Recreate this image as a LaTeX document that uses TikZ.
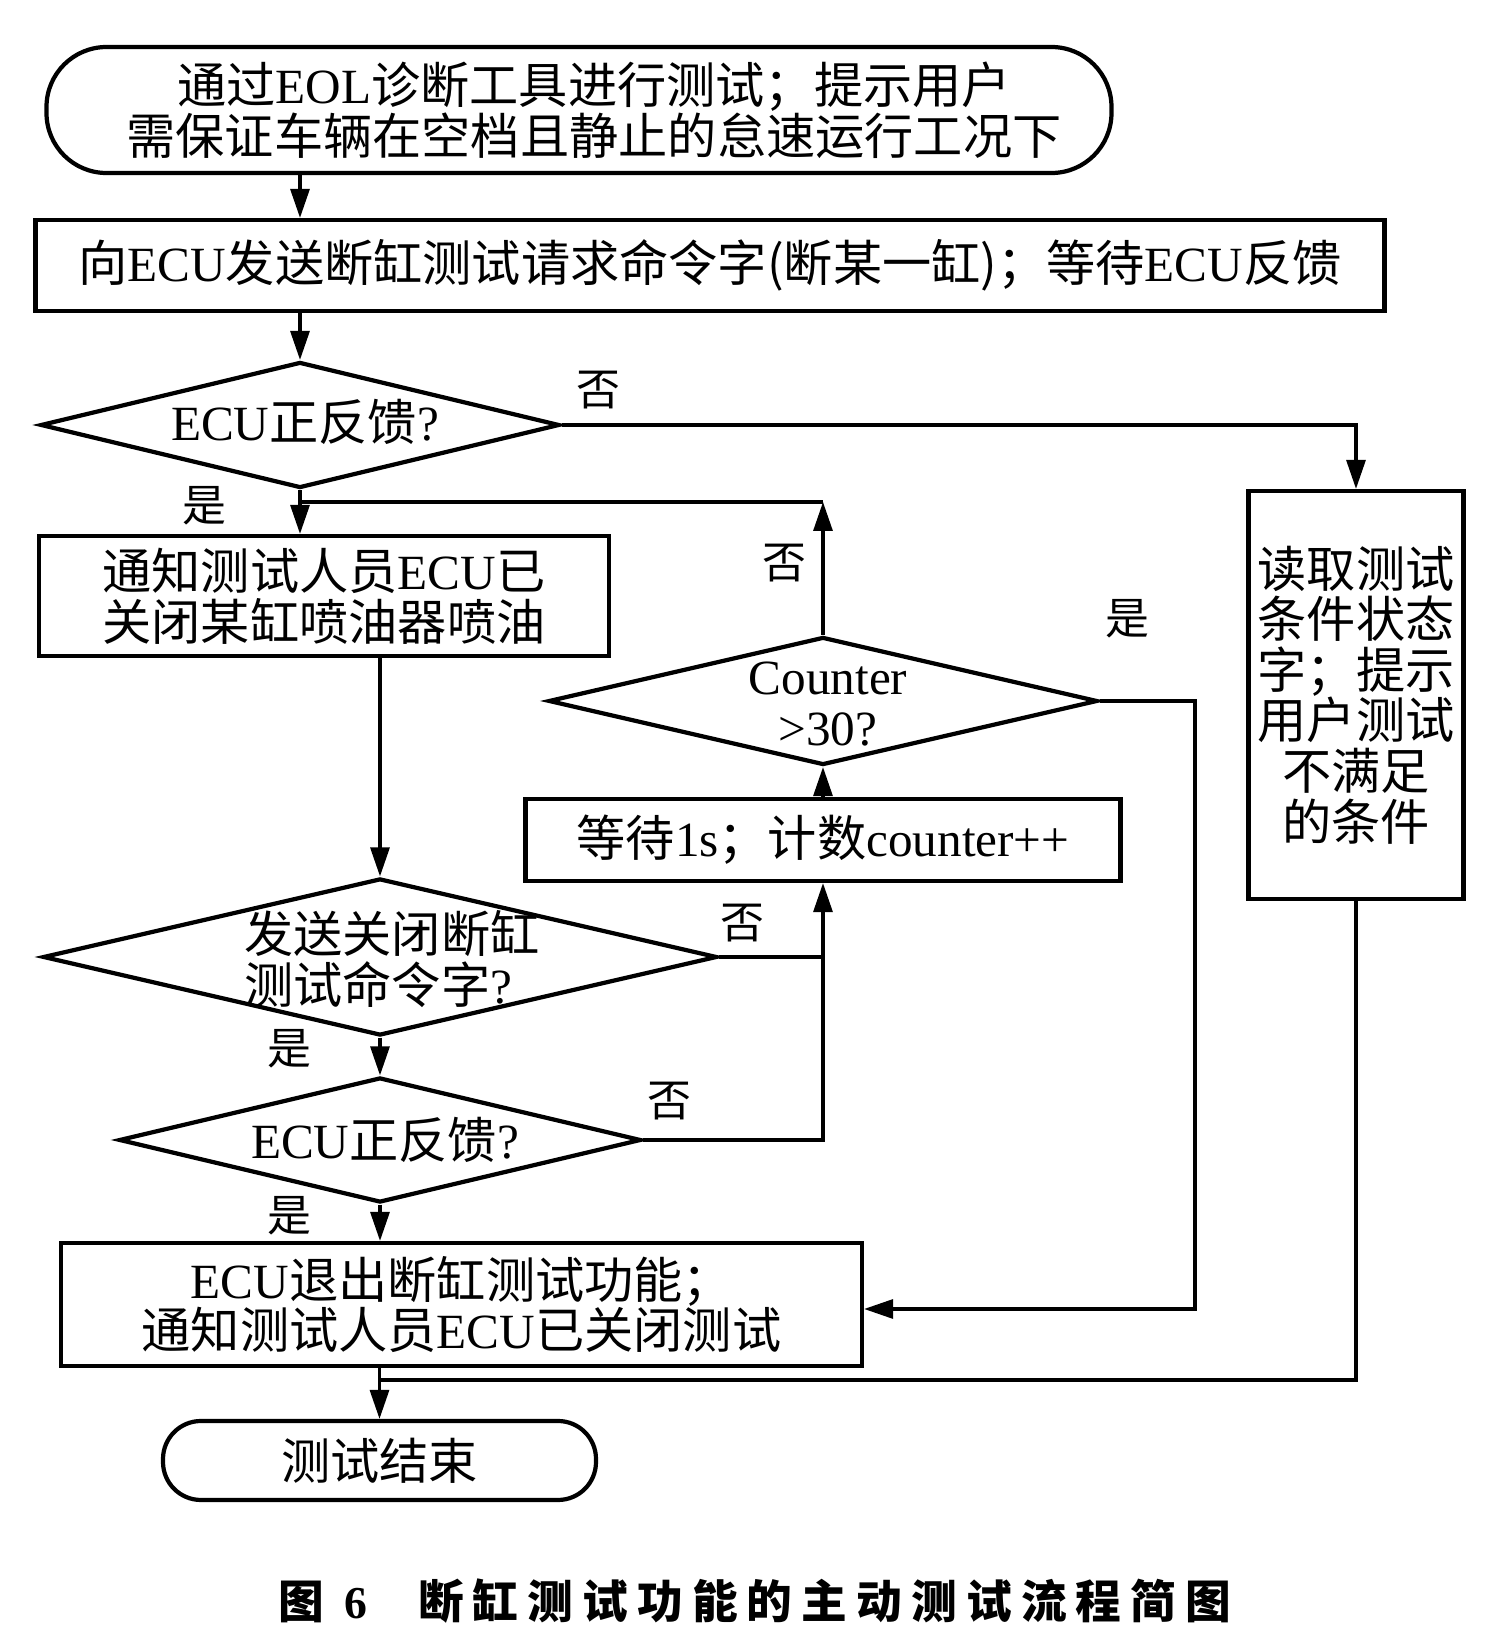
\documentclass[tikz,border=0pt]{standalone}
\usepackage{fontspec}
\setmainfont{Noto Sans CJK SC}
\newfontfamily\latin{Liberation Serif}
\newfontfamily\capfont[LetterSpace=20]{Noto Sans CJK SC}
\usepackage{tikz}
\usetikzlibrary{shapes.geometric, arrows.meta}
\newcommand{\ECU}{{\latin ECU}}
\tikzset{
    process/.style 2 args={draw, line width=1.2pt, minimum width=#1, minimum height=#2,
        inner sep=0pt, align=center},
    decision/.style 2 args={draw, diamond, line width=1.2pt, minimum width=#1, minimum height=#2,
        inner sep=0pt},
    yesno/.style={font=\fontsize{12.5}{13}\selectfont, inner sep=0pt},
    flow/.style={line width=0.9pt, -{Triangle[length=2.9mm, width=1.9mm]}},
    plainflow/.style={line width=0.9pt}
}

\begin{document}
\begin{tikzpicture}[font=\fontsize{14}{14.4}\selectfont]
            \fill[white] (0,0) rectangle (14.88,16.44);
            \useasboundingbox (0,0) rectangle (14.88,16.44);

            % ---------- Start and request ----------
            \node[draw, line width=1.2pt, rounded corners=0.6cm, minimum width=10.65cm,
                minimum height=1.26cm, align=center, inner sep=0pt] (start) at (5.79,15.34)
                {\hspace{0.3cm}通过{\latin EOL}诊断工具进行测试；提示用户\\\hspace{0.3cm}需保证车辆在空档且静止的怠速运行工况下};
            \node[process={13.49cm}{0.91cm}] (req) at (7.10,13.785)
                {向\ECU{}发送断缸测试请求命令字(断某一缸)；等待\ECU{}反馈};

            % ---------- First feedback check ----------
            \node[decision={5.19cm}{1.26cm}] (d1) at (3.0,12.19) {};
            \node (d1t) at (3.05,12.22) {\ECU{}正反馈{\latin ?}};
            \node[process={5.70cm}{1.20cm}] (b3) at (3.24,10.48)
                {通知测试人员\ECU{}已\\关闭某缸喷油器喷油};
            \node[process={2.15cm}{4.08cm}] (b6) at (13.56,9.49)
                {读取测试\\条件状态\\字；提示\\用户测试\\不满足\\的条件};

            % ---------- Counter loop ----------
            \node[decision={5.49cm}{1.28cm}] (cnt) at (8.23,9.43) {};
            \node[align=center] (cntt) at (8.28,9.40) {{\latin Counter}\\{\latin >30?}};
            \node[process={5.95cm}{0.82cm}] (wait) at (8.23,8.04)
                {等待{\latin 1s}；计数{\latin counter++}};

            % ---------- Close command and second check ----------
            \node[decision={6.74cm}{1.57cm}] (d3) at (3.80,6.87) {};
            \node[align=left] (d3t) at (3.92,6.85) {发送关闭断缸\\测试命令字{\latin ?}};
            \node[decision={5.22cm}{1.25cm}] (d4) at (3.80,5.04) {};
            \node (d4t) at (3.85,5.04) {\ECU{}正反馈{\latin ?}};

            % ---------- Exit and end ----------
            \node[process={8.01cm}{1.23cm}] (b5) at (4.615,3.395)
                {\ECU{}退出断缸测试功能；\\通知测试人员\ECU{}已关闭测试};
            \node[draw, line width=1.2pt, rounded corners=0.38cm, minimum width=4.33cm,
                minimum height=0.79cm, inner sep=0pt] (endt) at (3.795,1.835) {测试结束};

            % ---------- Branch labels ----------
            \node[yesno] (no1) at (5.98,12.54) {否};
            \node[yesno] (yes1) at (2.04,11.38) {是};
            \node[yesno] (no2) at (7.84,10.81) {否};
            \node[yesno] (yes2) at (11.27,10.25) {是};
            \node[yesno] (no3) at (7.42,7.21) {否};
            \node[yesno] (yes3) at (2.89,5.95) {是};
            \node[yesno] (no4) at (6.69,5.43) {否};
            \node[yesno] (yes4) at (2.89,4.28) {是};

            % ---------- Connectors ----------
            \coordinate (loopc) at (8.23,11.42);
            \coordinate (loopj) at (3.0,11.42);
            \coordinate (m3) at (8.23,6.87);
            \coordinate (rc) at (11.95,3.35);
            \coordinate (join) at (3.80,2.64);

            \draw[flow] (start.south -| d1.north) -- (d1.north |- req.north);
            \draw[flow] (req.south -| d1.north) -- (d1.north);
            \draw[flow] (d1.east) -| (b6.north);
            \draw[flow] (d1.south) -- (d1.south |- b3.north);
            \draw[flow] (cnt.north) -- (loopc);
            \draw[plainflow] (loopc) -- (loopj);
            \draw[flow] (b3.south -| d3.north) -- (d3.north);
            \draw[flow] (d3.south) -- (d4.north);
            \draw[flow] (d3.east) -| (wait.south);
            \draw[plainflow] (d4.east) -| (m3);
            \draw[flow] (wait.north) -- (cnt.south);
            \draw[flow] (cnt.east) -| (rc) -- (b5.east |- rc);
            \draw[flow] (d4.south) -- (d4.south |- b5.north);
            \draw[plainflow] (b6.south) |- (join);
            \draw[flow] (b5.south -| endt.north) -- (endt.north);

            % ---------- Caption ----------
            \node[font=\capfont\bfseries\fontsize{13}{13}\selectfont, inner sep=0pt] (cap) at (7.55,0.43)
                {图\hspace{0.45em}{\latin\bfseries 6}\hspace{1.1em}断缸测试功能的主动测试流程简图};
        \end{tikzpicture}
\end{document}
